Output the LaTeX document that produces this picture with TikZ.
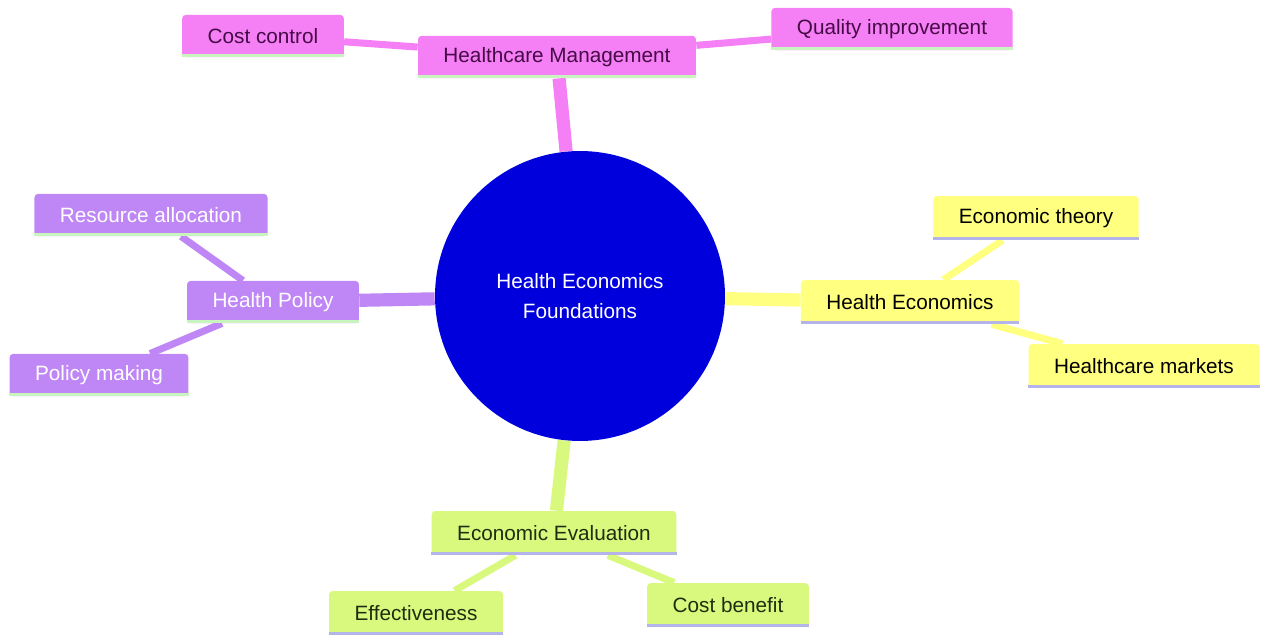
\documentclass[tikz,border=0pt]{standalone}
\usepackage{fontspec}
\setmainfont{Liberation Sans}
\usetikzlibrary{backgrounds}
\definecolor{pinkbox}{RGB}{245,127,245}
\definecolor{purplebox}{RGB}{191,135,245}
\definecolor{yellowbox}{RGB}{255,255,128}
\definecolor{greenbox}{RGB}{216,249,126}
\definecolor{hubblue}{RGB}{0,0,220}
\definecolor{pinktext}{RGB}{70,10,70}
\definecolor{greentext}{RGB}{30,45,15}
\definecolor{lineGreen}{RGB}{200,245,190}
\definecolor{lineLav}{RGB}{180,180,235}
\tikzset{
  box/.style={rectangle, rounded corners=2pt, minimum height=24pt, inner xsep=14.5pt,
    font=\fontsize{11.8}{14}\selectfont},
  hub/.style={circle, fill=hubblue, minimum size=5.8cm, text=white, align=center,
    font=\fontsize{11.8}{17.5}\selectfont},
  trunk/.style={line width=7.5pt, #1},
  twig/.style={line width=4pt, #1}
}
\begin{document}
\begin{tikzpicture}[x=0.02cm, y=-0.02cm]
		\useasboundingbox (0,0) rectangle (1269,638);
		% 中心
		\node [hub] (root) at (580,296) {Health Economics\\Foundations};
		% 上
		\node [box, fill=pinkbox, text=pinktext] (mgmt) at (557,57) {Healthcare Management};
		\node [box, fill=pinkbox, text=pinktext] (cost) at (263,36) {Cost control};
		\node [box, fill=pinkbox, text=pinktext] (quality) at (892,29) {Quality improvement};
		% 左
		\node [box, fill=purplebox, text=white] (policy) at (273,302) {Health Policy};
		\node [box, fill=purplebox, text=white] (resource) at (151,215) {Resource allocation};
		\node [box, fill=purplebox, text=white] (making) at (99,375) {Policy making};
		% 右
		\node [box, fill=yellowbox, minimum height=25pt] (econ) at (910,302) {Health Economics};
		\node [box, fill=yellowbox, minimum height=25pt] (theory) at (1036,218) {Economic theory};
		\node [box, fill=yellowbox, minimum height=25pt] (markets) at (1144,366) {Healthcare markets};
		% 下
		\node [box, fill=greenbox, text=greentext, minimum height=25pt] (eval) at (554,533) {Economic Evaluation};
		\node [box, fill=greenbox, text=greentext, minimum height=25pt] (effect) at (416,613) {Effectiveness};
		\node [box, fill=greenbox, text=greentext, minimum height=25pt] (benefit) at (728,605) {Cost benefit};
		% 底线
		\foreach \n/\c in {mgmt/lineGreen, cost/lineGreen, quality/lineGreen,
			policy/lineGreen, resource/lineGreen, making/lineGreen,
			econ/lineLav, theory/lineLav, markets/lineLav,
			eval/lineLav, effect/lineLav, benefit/lineLav}
			\draw [line width=2pt, \c] ([yshift=1pt]\n.south west) -- ([yshift=1pt]\n.south east);
		% 连线
		\begin{scope}[on background layer]
			\draw [trunk=pinkbox] (root) -- (mgmt);
			\draw [trunk=purplebox] (root) -- (policy);
			\draw [trunk=yellowbox] (root) -- (econ);
			\draw [trunk=greenbox] (root) -- (eval);
			\draw [twig=pinkbox] (mgmt) -- (cost);
			\draw [twig=pinkbox] (mgmt) -- (quality);
			\draw [twig=purplebox] (policy) -- (resource);
			\draw [twig=purplebox] (policy) -- (making);
			\draw [twig=yellowbox] (econ) -- (theory);
			\draw [twig=yellowbox] (econ) -- (markets);
			\draw [twig=greenbox] (eval) -- (effect);
			\draw [twig=greenbox] (eval) -- (benefit);
		\end{scope}
	\end{tikzpicture}
\end{document}
